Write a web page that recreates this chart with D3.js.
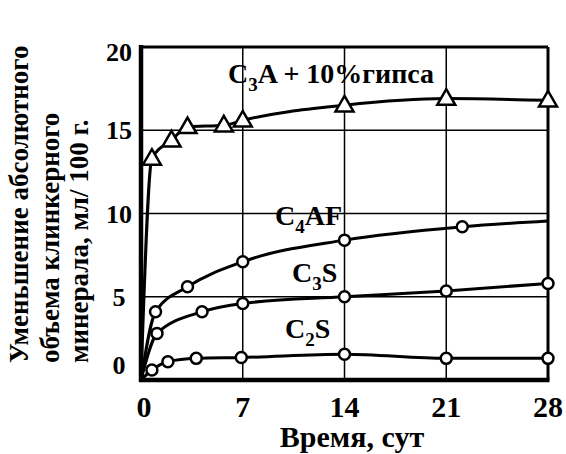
<!DOCTYPE html>
<meta charset="utf-8">
<script src="https://cdn.jsdelivr.net/npm/d3@7"></script>
<body style="margin:0">
<script>
// days after mixing, value = decrease of absolute volume, ml / 100 g
var c3aDays  = [0, 0.75, 2.1, 3.2, 5.7, 7, 14, 21, 28];
var c3aVals  = [0, 13.3, 14.4, 15.2, 15.3, 15.6, 16.5, 16.9, 16.8];
var c4afDays = [0, 1.0, 3.2, 7, 14, 22.1, 28];
var c4afVals = [0, 4.1, 5.6, 7.1, 8.4, 9.2, 9.55];
var c3sDays  = [0, 1.1, 4.2, 7, 14, 21, 28];
var c3sVals  = [0, 2.8, 4.1, 4.6, 5.0, 5.35, 5.8];
var c2sDays  = [0, 0.75, 1.85, 3.8, 6.9, 14, 21, 28];
var c2sVals  = [0, 0.6, 1.1, 1.3, 1.35, 1.55, 1.3, 1.3];

var xTicks = [0, 7, 14, 21, 28];
var yTicks = [0, 5, 10, 15, 20];

var width = 566, height = 454;
var FONT = "Liberation Serif";

var x = d3.scaleLinear().domain([0, 28]).range([141, 548]);
var y = d3.scaleLinear().domain([0, 20]).range([380, 47]);

var svg = d3.select("body").append("svg")
    .attr("width", width)
    .attr("height", height);

svg.append("rect").attr("width", width).attr("height", height).attr("fill", "#fff");

// grid
svg.append("g").selectAll("line")
  .data(xTicks.filter(function(d) { return d > 0 && d < 28; }))
  .enter().append("line")
    .attr("x1", x).attr("x2", x)
    .attr("y1", y(0)).attr("y2", y(20))
    .attr("stroke", "#000").attr("stroke-width", 1.5);
svg.append("g").selectAll("line")
  .data(yTicks.filter(function(d) { return d > 0 && d < 20; }))
  .enter().append("line")
    .attr("x1", x(0)).attr("x2", x(28))
    .attr("y1", y).attr("y2", y)
    .attr("stroke", "#000").attr("stroke-width", 1.5);

// frame: thick left/bottom axes, thinner top/right
svg.append("line").attr("x1", x(0)).attr("x2", x(28)).attr("y1", y(20)).attr("y2", y(20))
    .attr("stroke", "#000").attr("stroke-width", 3);
svg.append("line").attr("x1", x(28)).attr("x2", x(28)).attr("y1", y(20)).attr("y2", y(0))
    .attr("stroke", "#000").attr("stroke-width", 3);
svg.append("line").attr("x1", x(0)).attr("x2", x(0)).attr("y1", y(20) - 2).attr("y2", y(0) + 2)
    .attr("stroke", "#000").attr("stroke-width", 4.5);
svg.append("line").attr("x1", x(0) - 2).attr("x2", x(28) + 1.5).attr("y1", y(0)).attr("y2", y(0))
    .attr("stroke", "#000").attr("stroke-width", 4.5);

// tick labels
yTicks.forEach(function(d) {
  svg.append("text")
      .attr("x", 119)
      .attr("y", y(d) + (d === 0 ? -15 : d === 20 ? 5 : 0) + 9)
      .attr("text-anchor", "middle")
      .attr("font-family", FONT).attr("font-weight", "bold")
      .attr("font-size", 26)
      .text(d);
});

xTicks.forEach(function(d) {
  svg.append("text")
      .attr("x", x(d) + (d === 0 ? 3 : 0))
      .attr("y", 417)
      .attr("text-anchor", "middle")
      .attr("font-family", FONT).attr("font-weight", "bold")
      .attr("font-size", 30)
      .text(d);
});

svg.append("text")
    .attr("x", 352)
    .attr("y", 447)
    .attr("text-anchor", "middle")
    .attr("font-family", FONT).attr("font-weight", "bold")
    .attr("font-size", 30)
    .text("Время, сут");

[["Уменьшение абсолютного", 28], ["объема клинкерного", 59], ["минерала, мл/ 100 г.", 88]].forEach(function(l) {
  svg.append("text")
      .attr("transform", "translate(" + l[1] + ",363)rotate(-90)")
      .attr("text-anchor", "start")
      .attr("font-family", FONT).attr("font-weight", "bold")
      .attr("font-size", 27)
      .text(l[0]);
});

// curves
var line = d3.line()
    .x(function(d) { return x(d[0]); })
    .y(function(d) { return y(d[1]); })
    .curve(d3.curveMonotoneX);

function pts(days, vals) { return days.map(function(d, i) { return [d, vals[i]]; }); }

var series = [
  {pts: pts(c3aDays, c3aVals), mark: "tri"},
  {pts: pts(c4afDays, c4afVals), mark: "circ", skipLast: true},
  {pts: pts(c3sDays, c3sVals), mark: "circ"},
  {pts: pts(c2sDays, c2sVals), mark: "circ"}
];

series.forEach(function(s) {
  svg.append("path").attr("d", line(s.pts))
      .attr("fill", "none").attr("stroke", "#000").attr("stroke-width", 3);
});

var tri = d3.symbol().type(d3.symbolTriangle).size(140);

series.forEach(function(s) {
  var m = s.pts.slice(1, s.skipLast ? -1 : undefined);
  if (s.mark === "tri") {
    svg.append("g").selectAll("path").data(m).enter().append("path")
        .attr("d", tri)
        .attr("fill", "#fff").attr("stroke", "#000").attr("stroke-width", 2.5)
        .attr("transform", function(d) { return "translate(" + x(d[0]) + "," + (y(d[1]) + 1) + ")"; });
  } else {
    svg.append("g").selectAll("circle").data(m).enter().append("circle")
        .attr("r", 5.5)
        .attr("fill", "#fff").attr("stroke", "#000").attr("stroke-width", 2.5)
        .attr("cx", function(d) { return x(d[0]); })
        .attr("cy", function(d) { return y(d[1]); });
  }
});

// curve labels
function label(px, py, a, sub, b) {
  var t = svg.append("text").attr("x", px).attr("y", py)
      .attr("font-family", FONT).attr("font-weight", "bold").attr("font-size", 28);
  t.append("tspan").text(a);
  t.append("tspan").attr("font-size", 19).attr("dy", 8).text(sub);
  t.append("tspan").attr("dy", -8).text(b);
}
label(228, 83, "C", "3", "A + 10%гипса");
label(275, 225, "C", "4", "AF");
label(292, 282, "C", "3", "S");
label(285, 338, "C", "2", "S");
</script>
</body>
